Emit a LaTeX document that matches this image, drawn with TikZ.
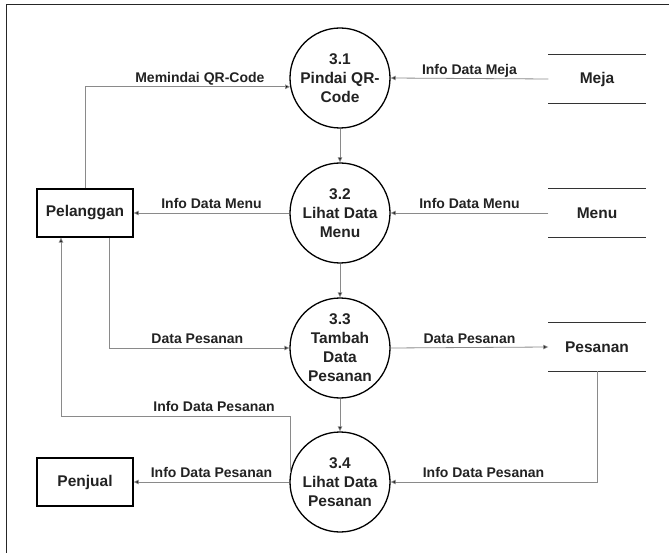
\documentclass[tikz,border=0pt]{standalone}
\usepackage{fontspec}
\setmainfont{Liberation Sans}
\usetikzlibrary{arrows.meta}

\newcommand{\shapefont}{\fontsize{15.5}{19}\selectfont\bfseries}
\newcommand{\flowfont}{\fontsize{14}{16}\selectfont\bfseries}
\definecolor{inkdark}{HTML}{222222}
\definecolor{flowgray}{HTML}{8A8A8A}

\begin{document}
\begin{tikzpicture}[x=1pt, y=-1pt,
    proc/.style={draw=black, line width=1.3pt, circle, minimum size=100pt,
                 inner sep=0pt, align=center, font=\shapefont, text=inkdark},
    entity/.style={draw=black, line width=1.3pt, minimum width=96pt,
                   minimum height=48pt, font=\shapefont, text=inkdark},
    store/.style={minimum width=97pt, minimum height=48pt, font=\shapefont,
                  text=inkdark},
    storeline/.style={draw=black!80, line width=1.3pt},
    flow/.style={draw=flowgray, line width=0.8pt,
                 -{Triangle[length=5pt, width=4.5pt, fill=black]}},
    lbl/.style={font=\flowfont, text=inkdark, above, inner sep=1pt,
                text height=10pt, text depth=3pt},
]
\useasboundingbox (0,0) rectangle (669,553);

% outer frame (cut off at the right and bottom)
\draw[black!85, line width=0.8pt] (6,553) -- (6,4) -- (669,4);

% ===================== PROCESSES =====================
\node[proc] (p31) at (340,78)  {3.1\\Pindai QR-\\Code};
\node[proc] (p32) at (340,213) {3.2\\Lihat Data\\Menu};
\node[proc] (p33) at (340,348) {3.3\\Tambah\\Data\\Pesanan};
\node[proc] (p34) at (340,482) {3.4\\Lihat Data\\Pesanan};

% ===================== ENTITIES =====================
\node[entity] (pel) at (85,213) {Pelanggan};
\node[entity] (pen) at (85,482) {Penjual};

% ===================== DATA STORES =====================
\node[store] (meja) at (597,79)  {Meja};
\node[store] (menu) at (597,213) {Menu};
\node[store] (pes)  at (597,347) {Pesanan};
\foreach \s in {meja, menu, pes} {
    \draw[storeline] (\s.north west) -- (\s.north east)
                     (\s.south west) -- (\s.south east);
}

% ===================== FLOWS =====================
% process chain
\draw[flow] (p31) -- (p32);
\draw[flow] (p32) -- (p33);
\draw[flow] (p33) -- (p34);

% pelanggan
\draw[flow] (pel.north) |- node[lbl, pos=0.78] {Memindai QR-Code} (p31.190);
\draw[flow] (p32.west) -- node[lbl] {Info Data Menu} (pel.east);
\draw[flow] ([xshift=24pt]pel.south) |- node[lbl, pos=0.745] {Data Pesanan} (p33.west);
\draw[flow] (p34.170) -- ++(0,-57)
    -| node[lbl, pos=0.166] {Info Data Pesanan} ([xshift=-24pt]pel.south);

% stores
\draw[flow] (meja.west) -- node[lbl] {Info Data Meja} (p31.east);
\draw[flow] (menu.west) -- node[lbl] {Info Data Menu} (p32.east);
\draw[flow] (p33.east) -- node[lbl] {Data Pesanan} (pes.west);
\draw[flow] (pes.south) |- node[lbl, pos=0.775] {Info Data Pesanan} (p34.east);

% penjual
\draw[flow] (p34.west) -- node[lbl] {Info Data Pesanan} (pen.east);

\end{tikzpicture}
\end{document}
